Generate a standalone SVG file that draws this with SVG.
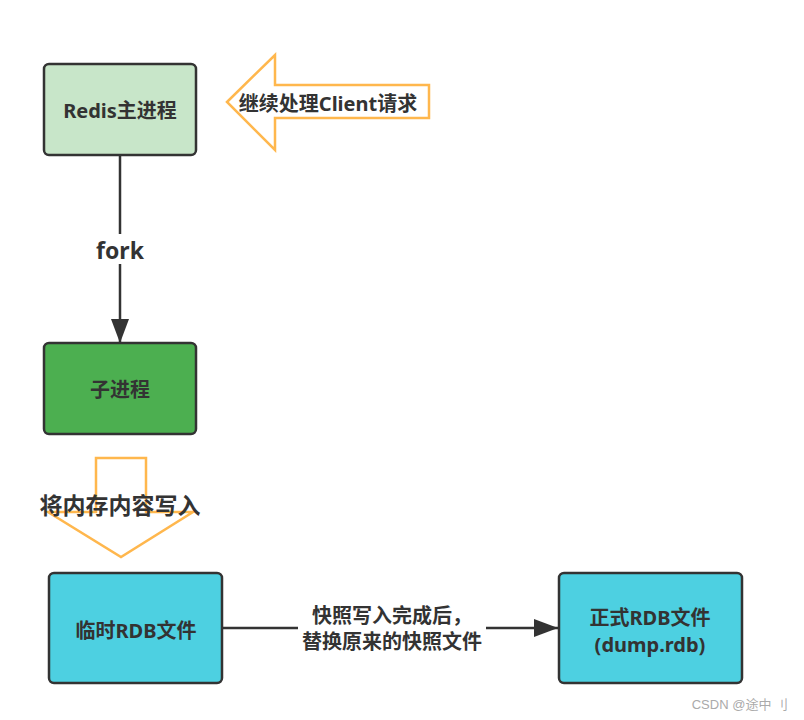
<svg xmlns="http://www.w3.org/2000/svg" width="804" height="720" viewBox="0 0 804 720">
<defs>
<style>
.box{stroke:#333;stroke-width:2.5}
.t{font-family:"Noto Sans","Noto Sans CJK SC",sans-serif;font-weight:bold;font-size:20px;fill:#333;text-anchor:middle;dominant-baseline:central}
.big{font-size:23px}
.hollow{fill:#fff;stroke:#ffb74d;stroke-width:2.5}
.conn{stroke:#333;stroke-width:2.5;fill:none}
</style>
<marker id="ah" markerWidth="24" markerHeight="18" refX="24" refY="9" orient="auto" markerUnits="userSpaceOnUse">
<path d="M0,0 L24,9 L0,18 Z" fill="#333"/>
</marker>
</defs>
<rect width="804" height="720" fill="#fff"/>

<g id="connectors">
<line class="conn" x1="120" y1="156" x2="120" y2="343" marker-end="url(#ah)"/>
<rect x="92" y="234" width="56" height="30" fill="#fff"/>
<text class="t big" x="120" y="250">fork</text>
<line class="conn" x1="223" y1="628" x2="558" y2="628" marker-end="url(#ah)"/>
<rect x="298" y="601" width="188" height="54" fill="#fff"/>
<text class="t" x="392" y="615">快照写入完成后，</text>
<text class="t" x="392" y="641">替换原来的快照文件</text>
</g>

<g id="node-redis">
<rect class="box" x="44" y="64" width="152" height="91" rx="5" fill="#c8e6c9"/>
<text class="t" x="120" y="110">Redis主进程</text>
</g>

<g id="node-client">
<polygon class="hollow" points="227,102 275,55 275,85 429,85 429,118 275,118 275,150"/>
<text class="t" x="328" y="103">继续处理Client请求</text>
</g>

<g id="node-child">
<rect class="box" x="44" y="343" width="152" height="91" rx="5" fill="#4caf50"/>
<text class="t" x="120" y="389">子进程</text>
</g>

<g id="node-write">
<polygon class="hollow" points="96,458 146,458 146,512 193,512 121,557 48,512 96,512"/>
<text class="t big" x="120" y="505">将内存内容写入</text>
</g>

<g id="node-temp">
<rect class="box" x="49" y="573" width="173" height="110" rx="5" fill="#4dd0e1"/>
<text class="t" x="136" y="630">临时RDB文件</text>
</g>

<g id="node-final">
<rect class="box" x="559" y="573" width="183" height="110" rx="5" fill="#4dd0e1"/>
<text class="t" x="650" y="617">正式RDB文件</text>
<text class="t" x="650" y="644">(dump.rdb)</text>
</g>

<text x="788" y="709" style="font-family:'Liberation Sans','Noto Sans CJK SC',sans-serif;font-size:13px;fill:#aaa;text-anchor:end">CSDN @途中 刂</text>
</svg>
